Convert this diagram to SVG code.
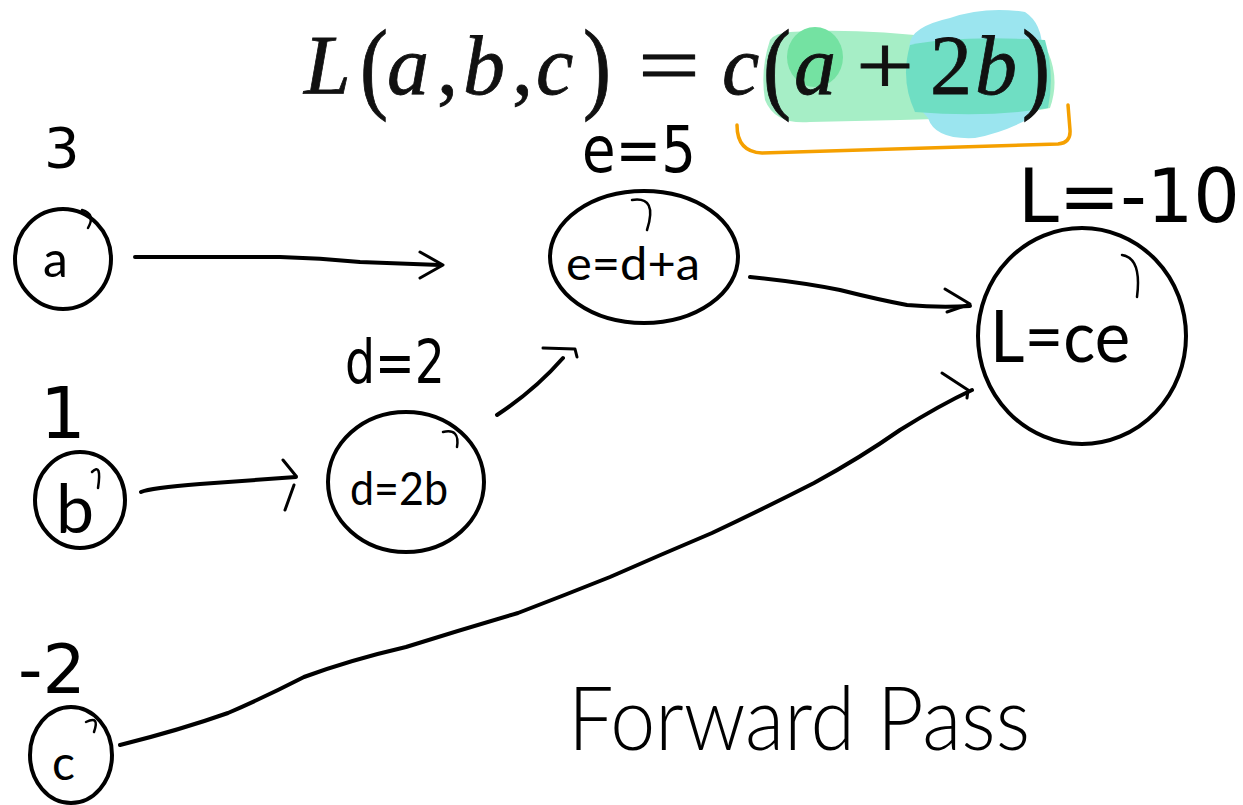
<svg xmlns="http://www.w3.org/2000/svg" width="1243" height="805" viewBox="0 0 1243 805">
<style>
.node{fill:none;stroke:#000;stroke-width:4;stroke-linecap:round}
.hook{fill:none;stroke:#000;stroke-width:2.5;stroke-linecap:round}
.edge{fill:none;stroke:#000;stroke-width:4;stroke-linecap:round;stroke-linejoin:round}
.head{fill:none;stroke:#000;stroke-width:3;stroke-linecap:round;stroke-linejoin:round}
.hw{font-family:Lato,"DejaVu Sans",sans-serif;fill:#000;font-weight:300}
.val{font-family:"DejaVu Sans","Liberation Sans",sans-serif;fill:#000;font-weight:400}
.lbl{font-family:Lato,"DejaVu Sans",sans-serif;fill:#000;font-weight:400}
.math{font-family:"Liberation Serif","Times New Roman",serif;fill:#111;font-size:84px;stroke:#111;stroke-width:0.8}
.it{font-style:italic}
</style>
<rect width="1243" height="805" fill="#fff"/>
<g id="formula">
  <path d="M770,40 Q760,70 765,100 Q775,125 810,122 L900,120 Q1000,118 1050,108 Q1060,80 1048,52 Q1000,45 940,38 Q860,28 790,32 Q775,33 770,40 Z" fill="#a6eec6"/>
  <path d="M910,50 Q905,28 950,18 Q985,6 1025,12 Q1045,25 1042,60 Q1045,100 1030,118 Q1005,132 975,138 Q935,140 928,118 Q905,95 910,50 Z" fill="#9be5ef"/>
  <path d="M910,45 Q960,35 1045,40 Q1055,75 1048,108 Q990,118 915,112 Q900,80 910,45 Z" fill="#6fdec3"/>
  <ellipse cx="815" cy="57" rx="28" ry="30" fill="#74e2a2"/>
  <text class="math it" x="304" y="94">L</text>
  <text class="math" transform="translate(360,100) scale(1,1.2)">(</text>
  <text class="math it" x="387" y="94">a</text>
  <text class="math" x="437" y="94">,</text>
  <text class="math it" x="463" y="94">b</text>
  <text class="math" x="512" y="94">,</text>
  <text class="math it" x="536" y="94">c</text>
  <text class="math" transform="translate(583,100) scale(1,1.2)">)</text>
  <text class="math" x="638" y="94" textLength="62" lengthAdjust="spacingAndGlyphs">=</text>
  <text class="math it" x="722" y="94">c</text>
  <text class="math" transform="translate(763,100) scale(1,1.2)">(</text>
  <text class="math it" x="794" y="94">a</text>
  <text class="math" x="856" y="94" textLength="58" lengthAdjust="spacingAndGlyphs">+</text>
  <text class="math" x="930" y="94">2</text>
  <text class="math it" x="975" y="94">b</text>
  <text class="math" transform="translate(1022,100) scale(1,1.2)">)</text>
  <path d="M737,125 Q737,152 762,153 L1058,144 Q1071,143 1070,130 L1068,105" fill="none" stroke="#f5a000" stroke-width="3.5" stroke-linecap="round" stroke-linejoin="round"/>
</g>
<g id="connectors">
  <path class="edge" d="M135,257 L280,257 Q320,258 360,262 L440,265"/>
  <path class="head" d="M420,252 L443,265 L420,278"/>
  <path class="edge" d="M141,492 Q150,488 200,484 L296,477"/>
  <path class="head" d="M283,460 L296,476 M294,485 L285,510"/>
  <path class="edge" d="M497,415 Q535,390 563,358"/>
  <path class="head" d="M543,348 L575,349 L577,357"/>
  <path class="edge" d="M750,277 Q800,282 840,290 Q880,300 907,305 Q940,308 970,306"/>
  <path class="head" d="M945,289 L970,304 L947,312"/>
  <path class="edge" d="M120,745 Q180,730 228,713 Q265,697 304,677 Q350,660 406,647 Q460,630 518,613 Q565,595 610,577 Q660,555 712,533 Q765,508 814,483 Q860,458 900,430 Q940,405 972,390"/>
  <path class="head" d="M942,373 L968,390 L967,398"/>
</g>
<g id="node-a">
  <ellipse class="node" cx="63" cy="259" rx="48" ry="50"/>
  <path class="hook" d="M88,228 Q96,214 82,210"/>
  <text class="lbl" x="43" y="277" font-size="50">a</text>
  <text class="val" x="44" y="167" font-size="56">3</text>
</g>
<g id="node-b">
  <ellipse class="node" cx="80" cy="500" rx="45" ry="48"/>
  <path class="hook" d="M92,472 Q102,462 98,488"/>
  <text class="lbl" x="56" y="533" font-size="68">b</text>
  <text class="val" x="40" y="438" font-size="72">1</text>
</g>
<g id="node-c">
  <ellipse class="node" cx="71" cy="755" rx="41" ry="48"/>
  <path class="hook" d="M86,722 Q100,715 94,732"/>
  <text class="lbl" x="52" y="780" font-size="48">c</text>
  <text class="val" x="18" y="693" font-size="68">-2</text>
</g>
<g id="node-d">
  <ellipse class="node" cx="406" cy="482" rx="78" ry="70"/>
  <path class="hook" d="M443,432 Q460,428 457,447"/>
  <text class="lbl" x="350" y="505" font-size="46" textLength="98" lengthAdjust="spacingAndGlyphs">d=2b</text>
  <text class="val" x="345" y="383" font-size="60" textLength="100" lengthAdjust="spacingAndGlyphs">d=2</text>
</g>
<g id="node-e">
  <ellipse class="node" cx="644" cy="257" rx="94" ry="66"/>
  <path class="hook" d="M632,200 Q658,196 647,230"/>
  <text class="lbl" x="566" y="280" font-size="46" textLength="134" lengthAdjust="spacingAndGlyphs">e=d+a</text>
  <text class="val" x="582" y="172" font-size="64" textLength="114" lengthAdjust="spacingAndGlyphs">e=5</text>
</g>
<g id="node-L">
  <ellipse class="node" cx="1082" cy="336" rx="104" ry="108"/>
  <path class="hook" d="M1122,255 Q1142,258 1137,297"/>
  <text class="lbl" x="990" y="362" font-size="72" textLength="140" lengthAdjust="spacingAndGlyphs">L=ce</text>
  <text class="val" x="1018" y="222" font-size="74" textLength="222" lengthAdjust="spacingAndGlyphs">L=-10</text>
</g>
<text class="hw" x="568" y="750" font-size="88" textLength="462" lengthAdjust="spacingAndGlyphs">Forward Pass</text>
</svg>
